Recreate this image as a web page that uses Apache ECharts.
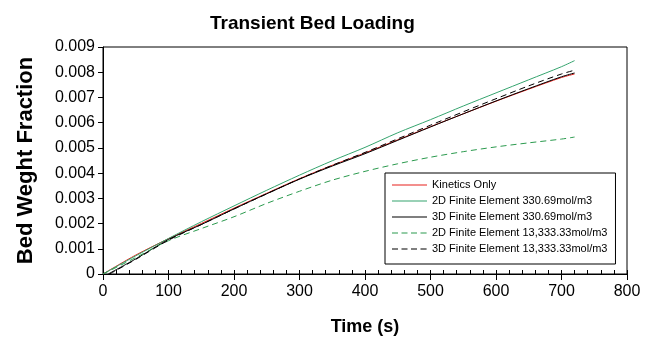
<!DOCTYPE html>
<html>
<head>
<meta charset="utf-8">
<script src="https://cdn.jsdelivr.net/npm/echarts@6/dist/echarts.min.js"></script>
<style>html,body{margin:0;padding:0;background:#fff}#c{width:645px;height:341px}</style>
</head>
<body>
<div id="c"></div>
<script>
const seriesNames = [
  'Kinetics Only',
  '2D Finite Element 330.69mol/m3',
  '3D Finite Element 330.69mol/m3',
  '2D Finite Element 13,333.33mol/m3',
  '3D Finite Element 13,333.33mol/m3'
];
const timeCommon = [0, 50, 100, 150, 200, 250, 300, 350, 400, 450, 500, 550, 600, 650, 700, 720];
const timeBlack = [8, 50, 100, 150, 200, 250, 300, 350, 400, 450, 500, 550, 600, 650, 700, 720];
const timeBlackDash = [10, 50, 100, 150, 200, 250, 300, 350, 400, 450, 500, 550, 600, 650, 700, 720];
const kinetics = [0, 0.00075, 0.00140, 0.00200, 0.00261, 0.00320, 0.00378, 0.00431, 0.00480, 0.00532, 0.00584, 0.00635, 0.00685, 0.00733, 0.00779, 0.00793];
const fe2dLow = [0, 0.00072, 0.00141, 0.00207, 0.00270, 0.00332, 0.00392, 0.00449, 0.00502, 0.00560, 0.00612, 0.00666, 0.00718, 0.00770, 0.00822, 0.00846];
const fe3dLow = [0, 0.00060, 0.00137, 0.00196, 0.00258, 0.00318, 0.00376, 0.00428, 0.00477, 0.00530, 0.00583, 0.00635, 0.00686, 0.00735, 0.00782, 0.00797];
const fe2dHigh = [0, 0.00065, 0.00132, 0.00180, 0.00227, 0.00280, 0.00328, 0.00372, 0.00407, 0.00437, 0.00463, 0.00485, 0.00504, 0.00520, 0.00535, 0.00543];
const fe3dHigh = [0, 0.00058, 0.00134, 0.00196, 0.00258, 0.00318, 0.00377, 0.00431, 0.00482, 0.00536, 0.00590, 0.00643, 0.00695, 0.00746, 0.00793, 0.00808];
const xTicks = [0, 100, 200, 300, 400, 500, 600, 700, 800];
const yTicks = [0, 0.001, 0.002, 0.003, 0.004, 0.005, 0.006, 0.007, 0.008, 0.009];

const pairs = (t, v) => t.map((x, i) => [x, v[i]]);
const FONT = "'Liberation Sans', Arial, sans-serif";
const ICON_SOLID = 'path://M0,0H35V1H0Z';
const ICON_DASH = 'path://M0,0H6V1H0Z M9.5,0H15.5V1H9.5Z M19,0H25V1H19Z M28.5,0H34.5V1H28.5Z M34.9,0H35V1H34.9Z';

const defs = [
  {name: seriesNames[0], t: timeCommon, v: kinetics, color: '#e8201c', type: 'solid'},
  {name: seriesNames[1], t: timeCommon, v: fe2dLow, color: '#35a46e', type: 'solid'},
  {name: seriesNames[2], t: timeBlack, v: fe3dLow, color: '#000000', type: 'solid'},
  {name: seriesNames[3], t: timeCommon, v: fe2dHigh, color: '#2b9a4e', type: [6, 4]},
  {name: seriesNames[4], t: timeBlackDash, v: fe3dHigh, color: '#000000', type: [6, 4]}
];

const chart = echarts.init(document.getElementById('c'), null, {renderer: 'canvas'});
chart.setOption({
  animation: false,
  backgroundColor: '#fff',
  title: {
    text: 'Transient Bed Loading',
    left: 205, top: 9,
    textStyle: {fontFamily: FONT, fontSize: 19, fontWeight: 'bold', color: '#000'}
  },
  grid: {left: 103, right: 18, top: 47, bottom: 67, show: true, borderColor: '#000', borderWidth: 1},
  legend: {
    orient: 'vertical', left: 385, top: 173,
    padding: [5, 8, 8, 7],
    itemWidth: 35, itemHeight: 1, itemGap: 2,
    borderColor: '#000', borderWidth: 1, backgroundColor: '#fff',
    textStyle: {fontFamily: FONT, fontSize: 11, lineHeight: 14, color: '#000'},
    data: defs.map(d => ({name: d.name, icon: d.type === 'solid' ? ICON_SOLID : ICON_DASH}))
  },
  xAxis: [{
    type: 'value', min: xTicks[0], max: xTicks[xTicks.length - 1], interval: 100,
    name: 'Time (s)', nameLocation: 'middle', nameGap: 44,
    nameTextStyle: {fontFamily: FONT, fontSize: 18, fontWeight: 'bold', color: '#000'},
    axisLine: {lineStyle: {color: '#000', width: 1}},
    axisTick: {inside: false, length: 6, lineStyle: {color: '#000'}},
    axisLabel: {fontFamily: FONT, fontSize: 16, color: '#000', margin: 10},
    splitLine: {show: false}
  }, {
    type: 'value', min: 0, max: 800, interval: 20, position: 'bottom',
    axisLine: {show: false},
    axisTick: {inside: true, length: 4, lineStyle: {color: '#000'}},
    axisLabel: {show: false},
    splitLine: {show: false}
  }],
  yAxis: {
    type: 'value', min: yTicks[0], max: yTicks[yTicks.length - 1], interval: 0.001,
    name: 'Bed Weght Fraction', nameLocation: 'middle', nameGap: 66,
    nameTextStyle: {fontFamily: FONT, fontSize: 22, fontWeight: 'bold', color: '#000'},
    axisLine: {show: true, lineStyle: {color: '#000', width: 1}},
    axisTick: {show: true, inside: false, length: 5, lineStyle: {color: '#000'}},
    axisLabel: {fontFamily: FONT, fontSize: 16, color: '#000', margin: 8,
      formatter: v => v === 0 ? '0' : v.toFixed(3)},
    splitLine: {show: false}
  },
  series: defs.map(d => ({
    name: d.name, type: 'line', xAxisIndex: 0,
    data: pairs(d.t, d.v),
    symbol: 'none', smooth: 0.3,
    color: d.color,
    lineStyle: {color: d.color, width: 1, type: d.type},
    itemStyle: {color: d.color}
  }))
});
</script>
</body>
</html>
